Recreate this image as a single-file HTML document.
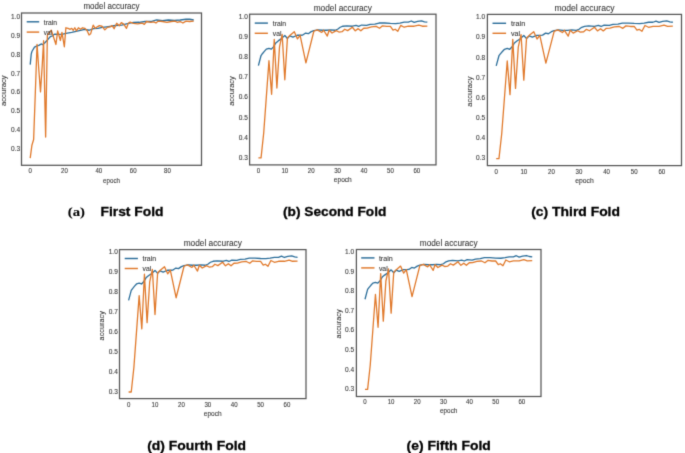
<!DOCTYPE html>
<html><head><meta charset="utf-8"><style>
html,body{margin:0;padding:0;background:#fff;width:685px;height:453px;overflow:hidden}
svg{display:block;font-family:"Liberation Sans", sans-serif}
</style></head><body>
<svg width="685" height="453" viewBox="0 0 685 453">
<defs><filter id="bl" color-interpolation-filters="sRGB" x="0" y="0" width="100%" height="100%" filterUnits="userSpaceOnUse"><feConvolveMatrix order="3" kernelMatrix="1 6 1 6 36 6 1 6 1" divisor="64" edgeMode="duplicate"/></filter></defs>
<g filter="url(#bl)">
<rect width="685" height="453" fill="#fff"/>
<clipPath id="c0"><rect x="21.5" y="13" width="180" height="152.3"/></clipPath>
<polyline clip-path="url(#c0)" points="30.2,64.57 31.23,54.14 31.92,51.48 34.49,47.12 36.55,46.17 38.78,45.41 41.53,43.9 42.56,44.66 44.61,42.95 47.19,40.29 49.25,37.83 50.79,36.31 52.85,35.93 53.8,34.6 54.91,34.22 57.83,34.41 62.8,34.03 67.27,33.08 71.73,32.32 76.02,31.38 80.48,30.43 84.77,29.48 89.23,30.24 93.52,28.53 97.98,28.34 102.27,27.39 106.73,26.82 111.02,26.25 115.49,25.5 121.66,25.12 127.5,23.6 133.33,22.46 139.17,22.27 145,21.51 150.83,21.51 156.67,19.99 162.5,20.75 168.34,19.99 174.34,20.37 180.18,19.99 186.01,19.24 189.62,19.24 193.73,19.99" fill="none" stroke="#2c6e9a" stroke-width="1.3" stroke-linejoin="round"/>
<polyline clip-path="url(#c0)" points="30.2,158.1 31.92,145.2 33.63,139.5 35.35,92.08 37.06,44.28 38.78,69.32 40.5,91.89 42.21,65.52 43.58,40.67 45.64,137.04 47.36,35.17 49.08,32.89 51.31,30.24 55.94,44.47 57.66,30.81 60.4,40.48 61.95,32.32 64.35,46.74 65.89,27.77 68.12,28.34 70.18,29.29 71.73,28.34 73.27,30.24 74.82,27.77 76.36,30.81 78.42,27.77 80.48,29.29 82.54,27.77 84.94,28.34 87.17,30.81 89.06,34.98 90.6,33.84 93.18,25.12 95.24,28.34 97.3,26.82 99.35,25.69 101.93,26.25 104.85,29.86 107.42,27.39 109.99,26.82 112.05,25.69 114.11,28.72 116.69,23.22 119.26,25.69 121.32,22.65 123.72,24.17 126.47,28.34 128.36,23.22 130.07,22.08 133.33,23.41 137.79,23.79 142.08,23.03 144.31,24.36 146.54,21.51 150.83,22.27 153.75,21.89 155.98,23.03 158.21,21.13 162.5,21.51 166.97,22.27 171.26,21.51 175.03,21.13 177.09,22.27 180.18,21.51 182.92,23.03 186.01,21.13 189.62,21.51 193.73,21.13" fill="none" stroke="#e0792b" stroke-width="1.3" stroke-linejoin="round"/>
<rect x="21.5" y="13" width="180" height="152.3" fill="none" stroke="#555555" stroke-width="1.25"/>
<text x="20.1" y="151.39" text-anchor="end" font-size="6.6" textLength="9.1" lengthAdjust="spacingAndGlyphs" fill="#3a3a3a" stroke="#3a3a3a" stroke-width="0.1">0.3</text>
<text x="20.1" y="132.42" text-anchor="end" font-size="6.6" textLength="9.1" lengthAdjust="spacingAndGlyphs" fill="#3a3a3a" stroke="#3a3a3a" stroke-width="0.1">0.4</text>
<text x="20.1" y="113.45" text-anchor="end" font-size="6.6" textLength="9.1" lengthAdjust="spacingAndGlyphs" fill="#3a3a3a" stroke="#3a3a3a" stroke-width="0.1">0.5</text>
<text x="20.1" y="94.48" text-anchor="end" font-size="6.6" textLength="9.1" lengthAdjust="spacingAndGlyphs" fill="#3a3a3a" stroke="#3a3a3a" stroke-width="0.1">0.6</text>
<text x="20.1" y="75.51" text-anchor="end" font-size="6.6" textLength="9.1" lengthAdjust="spacingAndGlyphs" fill="#3a3a3a" stroke="#3a3a3a" stroke-width="0.1">0.7</text>
<text x="20.1" y="56.54" text-anchor="end" font-size="6.6" textLength="9.1" lengthAdjust="spacingAndGlyphs" fill="#3a3a3a" stroke="#3a3a3a" stroke-width="0.1">0.8</text>
<text x="20.1" y="37.57" text-anchor="end" font-size="6.6" textLength="9.1" lengthAdjust="spacingAndGlyphs" fill="#3a3a3a" stroke="#3a3a3a" stroke-width="0.1">0.9</text>
<text x="20.1" y="18.6" text-anchor="end" font-size="6.6" textLength="9.1" lengthAdjust="spacingAndGlyphs" fill="#3a3a3a" stroke="#3a3a3a" stroke-width="0.1">1.0</text>
<text x="30.2" y="173.2" text-anchor="middle" font-size="6.6" textLength="3.4" lengthAdjust="spacingAndGlyphs" fill="#3a3a3a" stroke="#3a3a3a" stroke-width="0.1">0</text>
<text x="64.52" y="173.2" text-anchor="middle" font-size="6.6" textLength="6.8" lengthAdjust="spacingAndGlyphs" fill="#3a3a3a" stroke="#3a3a3a" stroke-width="0.1">20</text>
<text x="98.84" y="173.2" text-anchor="middle" font-size="6.6" textLength="6.8" lengthAdjust="spacingAndGlyphs" fill="#3a3a3a" stroke="#3a3a3a" stroke-width="0.1">40</text>
<text x="133.16" y="173.2" text-anchor="middle" font-size="6.6" textLength="6.8" lengthAdjust="spacingAndGlyphs" fill="#3a3a3a" stroke="#3a3a3a" stroke-width="0.1">60</text>
<text x="167.48" y="173.2" text-anchor="middle" font-size="6.6" textLength="6.8" lengthAdjust="spacingAndGlyphs" fill="#3a3a3a" stroke="#3a3a3a" stroke-width="0.1">80</text>
<text x="111.5" y="8.9" text-anchor="middle" font-size="8.8" textLength="56.1" lengthAdjust="spacingAndGlyphs" fill="#3a3a3a" stroke="#3a3a3a" stroke-width="0.1">model accuracy</text>
<text x="111.5" y="182.8" text-anchor="middle" font-size="7" textLength="16.9" lengthAdjust="spacingAndGlyphs" fill="#3a3a3a" stroke="#3a3a3a" stroke-width="0.1">epoch</text>
<text transform="translate(5.8,90.7) rotate(-90)" text-anchor="middle" font-size="7" textLength="30.6" lengthAdjust="spacingAndGlyphs" fill="#3a3a3a" stroke="#3a3a3a" stroke-width="0.1">accuracy</text>
<line x1="26.7" y1="21.8" x2="39.2" y2="21.8" stroke="#2c6e9a" stroke-width="1.45"/>
<line x1="26.7" y1="32.1" x2="39.2" y2="32.1" stroke="#e0792b" stroke-width="1.45"/>
<text x="43.8" y="24.8" font-size="7" textLength="13.2" lengthAdjust="spacingAndGlyphs" fill="#3a3a3a" stroke="#3a3a3a" stroke-width="0.1">train</text>
<text x="43.8" y="35.1" font-size="7" textLength="8.2" lengthAdjust="spacingAndGlyphs" fill="#3a3a3a" stroke="#3a3a3a" stroke-width="0.1">val</text>
<clipPath id="c1"><rect x="249.6" y="14.2" width="186.4" height="150.7"/></clipPath>
<polyline clip-path="url(#c1)" points="258.4,65.57 261.04,55.54 262.36,53.73 264.34,51.32 266.32,49.11 268.96,48.31 271.34,49.11 273.45,46.91 275.82,42.89 278.2,40.88 281.1,38.88 284.8,35.47 287.44,38.48 289.82,35.87 292.98,37.07 297.21,35.26 300.64,35.26 302.75,35.06 305.66,33.06 308.3,33.66 311.2,31.65 313.84,30.65 318.06,29.85 322.29,30.25 326.51,30.25 330.74,29.85 334.96,30.25 337.6,29.24 340.24,27.24 342.88,26.23 346.84,25.83 352.38,26.23 356.08,25.43 358.72,26.43 361.62,25.03 366.64,25.43 370.07,24.43 374.82,24.03 379.05,23.02 384.59,23.02 390.4,23.42 395.68,23.62 399.9,23.02 404.13,22.22 408.35,22.22 411.26,21.01 414.16,22.42 417.59,21.42 421.55,20.81 424.46,21.82 427.36,22.22" fill="none" stroke="#2c6e9a" stroke-width="1.3" stroke-linejoin="round"/>
<polyline clip-path="url(#c1)" points="258.4,157.89 261.04,157.89 263.68,133.21 266.32,97.08 268.96,60.75 271.6,94.27 274.24,39.28 276.88,88.05 279.52,46.91 282.16,34.46 284.8,79.82 287.44,37.87 290.08,35.26 294.3,31.65 297.47,38.88 300.11,35.26 305.92,62.96 313.84,31.25 317.27,29.85 321.76,32.45 323.61,30.25 327.3,36.07 329.15,30.25 332.06,33.06 336.28,30.65 338.92,32.05 342.09,31.65 344.73,29.24 347.63,30.65 352.38,27.24 355.29,30.85 358.19,28.64 360.83,30.85 363.74,28.24 367.17,28.04 371.39,26.84 376.14,26.43 379.58,28.24 382.48,25.83 386.7,26.43 390.4,26.43 393.04,30.05 395.15,29.24 397.79,31.25 400.7,25.43 404.13,27.24 408.35,26.23 414.16,26.23 418.91,25.03 422.34,26.23 427.36,26.03" fill="none" stroke="#e0792b" stroke-width="1.3" stroke-linejoin="round"/>
<rect x="249.6" y="14.2" width="186.4" height="150.7" fill="none" stroke="#555555" stroke-width="1.25"/>
<text x="247.8" y="159.69" text-anchor="end" font-size="6.6" textLength="9.1" lengthAdjust="spacingAndGlyphs" fill="#3a3a3a" stroke="#3a3a3a" stroke-width="0.1">0.3</text>
<text x="247.8" y="139.62" text-anchor="end" font-size="6.6" textLength="9.1" lengthAdjust="spacingAndGlyphs" fill="#3a3a3a" stroke="#3a3a3a" stroke-width="0.1">0.4</text>
<text x="247.8" y="119.55" text-anchor="end" font-size="6.6" textLength="9.1" lengthAdjust="spacingAndGlyphs" fill="#3a3a3a" stroke="#3a3a3a" stroke-width="0.1">0.5</text>
<text x="247.8" y="99.48" text-anchor="end" font-size="6.6" textLength="9.1" lengthAdjust="spacingAndGlyphs" fill="#3a3a3a" stroke="#3a3a3a" stroke-width="0.1">0.6</text>
<text x="247.8" y="79.41" text-anchor="end" font-size="6.6" textLength="9.1" lengthAdjust="spacingAndGlyphs" fill="#3a3a3a" stroke="#3a3a3a" stroke-width="0.1">0.7</text>
<text x="247.8" y="59.34" text-anchor="end" font-size="6.6" textLength="9.1" lengthAdjust="spacingAndGlyphs" fill="#3a3a3a" stroke="#3a3a3a" stroke-width="0.1">0.8</text>
<text x="247.8" y="39.27" text-anchor="end" font-size="6.6" textLength="9.1" lengthAdjust="spacingAndGlyphs" fill="#3a3a3a" stroke="#3a3a3a" stroke-width="0.1">0.9</text>
<text x="247.8" y="19.2" text-anchor="end" font-size="6.6" textLength="9.1" lengthAdjust="spacingAndGlyphs" fill="#3a3a3a" stroke="#3a3a3a" stroke-width="0.1">1.0</text>
<text x="258.4" y="172.8" text-anchor="middle" font-size="6.6" textLength="3.4" lengthAdjust="spacingAndGlyphs" fill="#3a3a3a" stroke="#3a3a3a" stroke-width="0.1">0</text>
<text x="284.8" y="172.8" text-anchor="middle" font-size="6.6" textLength="6.8" lengthAdjust="spacingAndGlyphs" fill="#3a3a3a" stroke="#3a3a3a" stroke-width="0.1">10</text>
<text x="311.2" y="172.8" text-anchor="middle" font-size="6.6" textLength="6.8" lengthAdjust="spacingAndGlyphs" fill="#3a3a3a" stroke="#3a3a3a" stroke-width="0.1">20</text>
<text x="337.6" y="172.8" text-anchor="middle" font-size="6.6" textLength="6.8" lengthAdjust="spacingAndGlyphs" fill="#3a3a3a" stroke="#3a3a3a" stroke-width="0.1">30</text>
<text x="364" y="172.8" text-anchor="middle" font-size="6.6" textLength="6.8" lengthAdjust="spacingAndGlyphs" fill="#3a3a3a" stroke="#3a3a3a" stroke-width="0.1">40</text>
<text x="390.4" y="172.8" text-anchor="middle" font-size="6.6" textLength="6.8" lengthAdjust="spacingAndGlyphs" fill="#3a3a3a" stroke="#3a3a3a" stroke-width="0.1">50</text>
<text x="416.8" y="172.8" text-anchor="middle" font-size="6.6" textLength="6.8" lengthAdjust="spacingAndGlyphs" fill="#3a3a3a" stroke="#3a3a3a" stroke-width="0.1">60</text>
<text x="342.8" y="10.6" text-anchor="middle" font-size="8.8" textLength="58.2" lengthAdjust="spacingAndGlyphs" fill="#3a3a3a" stroke="#3a3a3a" stroke-width="0.1">model accuracy</text>
<text x="342.8" y="182.4" text-anchor="middle" font-size="7" textLength="18" lengthAdjust="spacingAndGlyphs" fill="#3a3a3a" stroke="#3a3a3a" stroke-width="0.1">epoch</text>
<text transform="translate(233.5,91) rotate(-90)" text-anchor="middle" font-size="7" textLength="29.5" lengthAdjust="spacingAndGlyphs" fill="#3a3a3a" stroke="#3a3a3a" stroke-width="0.1">accuracy</text>
<line x1="254.7" y1="23.1" x2="267.9" y2="23.1" stroke="#2c6e9a" stroke-width="1.45"/>
<line x1="254.7" y1="33.3" x2="267.9" y2="33.3" stroke="#e0792b" stroke-width="1.45"/>
<text x="272.8" y="25.7" font-size="7" textLength="13.3" lengthAdjust="spacingAndGlyphs" fill="#3a3a3a" stroke="#3a3a3a" stroke-width="0.1">train</text>
<text x="272.8" y="35.9" font-size="7" textLength="8.6" lengthAdjust="spacingAndGlyphs" fill="#3a3a3a" stroke="#3a3a3a" stroke-width="0.1">val</text>
<clipPath id="c2"><rect x="487.4" y="14.4" width="194.1" height="151.2"/></clipPath>
<polyline clip-path="url(#c2)" points="496.2,65.81 498.96,55.73 500.34,53.91 502.41,51.49 504.48,49.27 507.24,48.47 509.72,49.27 511.93,47.06 514.42,43.02 516.9,41 519.94,38.99 523.8,35.56 526.56,38.58 529.04,35.96 532.36,37.17 536.77,35.36 540.36,35.36 542.57,35.15 545.6,33.14 548.36,33.74 551.4,31.73 554.16,30.72 558.58,29.91 562.99,30.31 567.41,30.31 571.82,29.91 576.24,30.31 579,29.31 581.76,27.29 584.52,26.28 588.66,25.88 594.46,26.28 598.32,25.47 601.08,26.48 604.12,25.07 609.36,25.47 612.95,24.46 617.92,24.06 622.33,23.05 628.13,23.05 634.2,23.46 639.72,23.66 644.14,23.05 648.55,22.25 652.97,22.25 656,21.04 659.04,22.45 662.63,21.44 666.77,20.83 669.8,21.84 672.84,22.25" fill="none" stroke="#2c6e9a" stroke-width="1.3" stroke-linejoin="round"/>
<polyline clip-path="url(#c2)" points="496.2,158.6 498.96,158.6 501.72,133.79 504.48,97.48 507.24,60.97 510,94.66 512.76,39.39 515.52,88.4 518.28,47.06 521.04,34.55 523.8,80.13 526.56,37.98 529.32,35.36 533.74,31.73 537.05,38.99 539.81,35.36 545.88,63.19 554.16,31.32 557.75,29.91 562.44,32.53 564.37,30.31 568.24,36.16 570.17,30.31 573.2,33.14 577.62,30.72 580.38,32.13 583.69,31.73 586.45,29.31 589.49,30.72 594.46,27.29 597.49,30.92 600.53,28.7 603.29,30.92 606.32,28.3 609.91,28.1 614.33,26.89 619.3,26.48 622.88,28.3 625.92,25.88 630.34,26.48 634.2,26.48 636.96,30.11 639.17,29.31 641.93,31.32 644.96,25.47 648.55,27.29 652.97,26.28 659.04,26.28 664.01,25.07 667.6,26.28 672.84,26.08" fill="none" stroke="#e0792b" stroke-width="1.3" stroke-linejoin="round"/>
<rect x="487.4" y="14.4" width="194.1" height="151.2" fill="none" stroke="#555555" stroke-width="1.25"/>
<text x="485.2" y="160.39" text-anchor="end" font-size="6.6" textLength="9.1" lengthAdjust="spacingAndGlyphs" fill="#3a3a3a" stroke="#3a3a3a" stroke-width="0.1">0.3</text>
<text x="485.2" y="140.22" text-anchor="end" font-size="6.6" textLength="9.1" lengthAdjust="spacingAndGlyphs" fill="#3a3a3a" stroke="#3a3a3a" stroke-width="0.1">0.4</text>
<text x="485.2" y="120.05" text-anchor="end" font-size="6.6" textLength="9.1" lengthAdjust="spacingAndGlyphs" fill="#3a3a3a" stroke="#3a3a3a" stroke-width="0.1">0.5</text>
<text x="485.2" y="99.88" text-anchor="end" font-size="6.6" textLength="9.1" lengthAdjust="spacingAndGlyphs" fill="#3a3a3a" stroke="#3a3a3a" stroke-width="0.1">0.6</text>
<text x="485.2" y="79.71" text-anchor="end" font-size="6.6" textLength="9.1" lengthAdjust="spacingAndGlyphs" fill="#3a3a3a" stroke="#3a3a3a" stroke-width="0.1">0.7</text>
<text x="485.2" y="59.54" text-anchor="end" font-size="6.6" textLength="9.1" lengthAdjust="spacingAndGlyphs" fill="#3a3a3a" stroke="#3a3a3a" stroke-width="0.1">0.8</text>
<text x="485.2" y="39.37" text-anchor="end" font-size="6.6" textLength="9.1" lengthAdjust="spacingAndGlyphs" fill="#3a3a3a" stroke="#3a3a3a" stroke-width="0.1">0.9</text>
<text x="485.2" y="19.2" text-anchor="end" font-size="6.6" textLength="9.1" lengthAdjust="spacingAndGlyphs" fill="#3a3a3a" stroke="#3a3a3a" stroke-width="0.1">1.0</text>
<text x="496.2" y="173.5" text-anchor="middle" font-size="6.6" textLength="3.4" lengthAdjust="spacingAndGlyphs" fill="#3a3a3a" stroke="#3a3a3a" stroke-width="0.1">0</text>
<text x="523.8" y="173.5" text-anchor="middle" font-size="6.6" textLength="6.8" lengthAdjust="spacingAndGlyphs" fill="#3a3a3a" stroke="#3a3a3a" stroke-width="0.1">10</text>
<text x="551.4" y="173.5" text-anchor="middle" font-size="6.6" textLength="6.8" lengthAdjust="spacingAndGlyphs" fill="#3a3a3a" stroke="#3a3a3a" stroke-width="0.1">20</text>
<text x="579" y="173.5" text-anchor="middle" font-size="6.6" textLength="6.8" lengthAdjust="spacingAndGlyphs" fill="#3a3a3a" stroke="#3a3a3a" stroke-width="0.1">30</text>
<text x="606.6" y="173.5" text-anchor="middle" font-size="6.6" textLength="6.8" lengthAdjust="spacingAndGlyphs" fill="#3a3a3a" stroke="#3a3a3a" stroke-width="0.1">40</text>
<text x="634.2" y="173.5" text-anchor="middle" font-size="6.6" textLength="6.8" lengthAdjust="spacingAndGlyphs" fill="#3a3a3a" stroke="#3a3a3a" stroke-width="0.1">50</text>
<text x="661.8" y="173.5" text-anchor="middle" font-size="6.6" textLength="6.8" lengthAdjust="spacingAndGlyphs" fill="#3a3a3a" stroke="#3a3a3a" stroke-width="0.1">60</text>
<text x="584.45" y="10.6" text-anchor="middle" font-size="8.8" textLength="60.1" lengthAdjust="spacingAndGlyphs" fill="#3a3a3a" stroke="#3a3a3a" stroke-width="0.1">model accuracy</text>
<text x="584.45" y="183" text-anchor="middle" font-size="7" textLength="18.5" lengthAdjust="spacingAndGlyphs" fill="#3a3a3a" stroke="#3a3a3a" stroke-width="0.1">epoch</text>
<text transform="translate(471.5,91.6) rotate(-90)" text-anchor="middle" font-size="7" textLength="30.1" lengthAdjust="spacingAndGlyphs" fill="#3a3a3a" stroke="#3a3a3a" stroke-width="0.1">accuracy</text>
<line x1="492.5" y1="23.3" x2="506.1" y2="23.3" stroke="#2c6e9a" stroke-width="1.45"/>
<line x1="492.5" y1="33.3" x2="506.1" y2="33.3" stroke="#e0792b" stroke-width="1.45"/>
<text x="511" y="25.8" font-size="7" textLength="14.2" lengthAdjust="spacingAndGlyphs" fill="#3a3a3a" stroke="#3a3a3a" stroke-width="0.1">train</text>
<text x="511" y="35.8" font-size="7" textLength="9.1" lengthAdjust="spacingAndGlyphs" fill="#3a3a3a" stroke="#3a3a3a" stroke-width="0.1">val</text>
<clipPath id="c3"><rect x="119.5" y="249.6" width="186.5" height="149"/></clipPath>
<polyline clip-path="url(#c3)" points="128.6,300.33 131.24,290.36 132.56,288.57 134.54,286.18 136.52,283.99 139.16,283.19 141.54,283.99 143.65,281.8 146.02,277.81 148.4,275.82 151.3,273.82 155,270.43 157.64,273.42 160.02,270.83 163.18,272.03 167.41,270.24 170.84,270.24 172.95,270.04 175.86,268.04 178.5,268.64 181.4,266.65 184.04,265.65 188.26,264.85 192.49,265.25 196.71,265.25 200.94,264.85 205.16,265.25 207.8,264.26 210.44,262.26 213.08,261.27 217.04,260.87 222.58,261.27 226.28,260.47 228.92,261.47 231.82,260.07 236.84,260.47 240.27,259.47 245.02,259.07 249.25,258.08 254.79,258.08 260.6,258.48 265.88,258.68 270.1,258.08 274.33,257.28 278.55,257.28 281.46,256.09 284.36,257.48 287.79,256.48 291.75,255.89 294.66,256.88 297.56,257.28" fill="none" stroke="#2c6e9a" stroke-width="1.3" stroke-linejoin="round"/>
<polyline clip-path="url(#c3)" points="128.6,392.01 131.24,392.01 133.88,367.49 136.52,331.62 139.16,295.55 141.8,328.83 144.44,274.22 147.08,322.65 149.72,281.8 152.36,269.44 155,314.48 157.64,272.83 160.28,270.24 164.5,266.65 167.67,273.82 170.31,270.24 176.12,297.74 184.04,266.25 187.47,264.85 191.96,267.45 193.81,265.25 197.5,271.03 199.35,265.25 202.26,268.04 206.48,265.65 209.12,267.05 212.29,266.65 214.93,264.26 217.83,265.65 222.58,262.26 225.49,265.85 228.39,263.66 231.03,265.85 233.94,263.26 237.37,263.06 241.59,261.87 246.34,261.47 249.78,263.26 252.68,260.87 256.9,261.47 260.6,261.47 263.24,265.05 265.35,264.26 267.99,266.25 270.9,260.47 274.33,262.26 278.55,261.27 284.36,261.27 289.11,260.07 292.54,261.27 297.56,261.07" fill="none" stroke="#e0792b" stroke-width="1.3" stroke-linejoin="round"/>
<rect x="119.5" y="249.6" width="186.5" height="149" fill="none" stroke="#555555" stroke-width="1.25"/>
<text x="117.8" y="393.81" text-anchor="end" font-size="6.6" textLength="9.1" lengthAdjust="spacingAndGlyphs" fill="#3a3a3a" stroke="#3a3a3a" stroke-width="0.1">0.3</text>
<text x="117.8" y="373.88" text-anchor="end" font-size="6.6" textLength="9.1" lengthAdjust="spacingAndGlyphs" fill="#3a3a3a" stroke="#3a3a3a" stroke-width="0.1">0.4</text>
<text x="117.8" y="353.95" text-anchor="end" font-size="6.6" textLength="9.1" lengthAdjust="spacingAndGlyphs" fill="#3a3a3a" stroke="#3a3a3a" stroke-width="0.1">0.5</text>
<text x="117.8" y="334.02" text-anchor="end" font-size="6.6" textLength="9.1" lengthAdjust="spacingAndGlyphs" fill="#3a3a3a" stroke="#3a3a3a" stroke-width="0.1">0.6</text>
<text x="117.8" y="314.09" text-anchor="end" font-size="6.6" textLength="9.1" lengthAdjust="spacingAndGlyphs" fill="#3a3a3a" stroke="#3a3a3a" stroke-width="0.1">0.7</text>
<text x="117.8" y="294.16" text-anchor="end" font-size="6.6" textLength="9.1" lengthAdjust="spacingAndGlyphs" fill="#3a3a3a" stroke="#3a3a3a" stroke-width="0.1">0.8</text>
<text x="117.8" y="274.23" text-anchor="end" font-size="6.6" textLength="9.1" lengthAdjust="spacingAndGlyphs" fill="#3a3a3a" stroke="#3a3a3a" stroke-width="0.1">0.9</text>
<text x="117.8" y="254.3" text-anchor="end" font-size="6.6" textLength="9.1" lengthAdjust="spacingAndGlyphs" fill="#3a3a3a" stroke="#3a3a3a" stroke-width="0.1">1.0</text>
<text x="128.6" y="406.5" text-anchor="middle" font-size="6.6" textLength="3.4" lengthAdjust="spacingAndGlyphs" fill="#3a3a3a" stroke="#3a3a3a" stroke-width="0.1">0</text>
<text x="155" y="406.5" text-anchor="middle" font-size="6.6" textLength="6.8" lengthAdjust="spacingAndGlyphs" fill="#3a3a3a" stroke="#3a3a3a" stroke-width="0.1">10</text>
<text x="181.4" y="406.5" text-anchor="middle" font-size="6.6" textLength="6.8" lengthAdjust="spacingAndGlyphs" fill="#3a3a3a" stroke="#3a3a3a" stroke-width="0.1">20</text>
<text x="207.8" y="406.5" text-anchor="middle" font-size="6.6" textLength="6.8" lengthAdjust="spacingAndGlyphs" fill="#3a3a3a" stroke="#3a3a3a" stroke-width="0.1">30</text>
<text x="234.2" y="406.5" text-anchor="middle" font-size="6.6" textLength="6.8" lengthAdjust="spacingAndGlyphs" fill="#3a3a3a" stroke="#3a3a3a" stroke-width="0.1">40</text>
<text x="260.6" y="406.5" text-anchor="middle" font-size="6.6" textLength="6.8" lengthAdjust="spacingAndGlyphs" fill="#3a3a3a" stroke="#3a3a3a" stroke-width="0.1">50</text>
<text x="287" y="406.5" text-anchor="middle" font-size="6.6" textLength="6.8" lengthAdjust="spacingAndGlyphs" fill="#3a3a3a" stroke="#3a3a3a" stroke-width="0.1">60</text>
<text x="212.75" y="245.6" text-anchor="middle" font-size="8.8" textLength="58.2" lengthAdjust="spacingAndGlyphs" fill="#3a3a3a" stroke="#3a3a3a" stroke-width="0.1">model accuracy</text>
<text x="212.75" y="415.6" text-anchor="middle" font-size="7" textLength="17.9" lengthAdjust="spacingAndGlyphs" fill="#3a3a3a" stroke="#3a3a3a" stroke-width="0.1">epoch</text>
<text transform="translate(103.5,325.8) rotate(-90)" text-anchor="middle" font-size="7" textLength="29.2" lengthAdjust="spacingAndGlyphs" fill="#3a3a3a" stroke="#3a3a3a" stroke-width="0.1">accuracy</text>
<line x1="124.7" y1="258.5" x2="137.9" y2="258.5" stroke="#2c6e9a" stroke-width="1.45"/>
<line x1="124.7" y1="268.5" x2="137.9" y2="268.5" stroke="#e0792b" stroke-width="1.45"/>
<text x="142.6" y="261.1" font-size="7" textLength="13.5" lengthAdjust="spacingAndGlyphs" fill="#3a3a3a" stroke="#3a3a3a" stroke-width="0.1">train</text>
<text x="142.6" y="271.1" font-size="7" textLength="8.7" lengthAdjust="spacingAndGlyphs" fill="#3a3a3a" stroke="#3a3a3a" stroke-width="0.1">val</text>
<clipPath id="c4"><rect x="356.4" y="249.5" width="184.6" height="147"/></clipPath>
<polyline clip-path="url(#c4)" points="365,299.23 367.61,289.43 368.92,287.66 370.88,285.31 372.84,283.16 375.45,282.37 377.8,283.16 379.89,281 382.25,277.08 384.6,275.12 387.47,273.16 391.13,269.83 393.74,272.77 396.09,270.22 399.23,271.4 403.41,269.63 406.81,269.63 408.9,269.44 411.77,267.48 414.39,268.06 417.26,266.1 419.87,265.12 424.05,264.34 428.23,264.73 432.42,264.73 436.6,264.34 440.78,264.73 443.39,263.75 446,261.79 448.62,260.81 452.54,260.42 458.02,260.81 461.68,260.03 464.29,261.01 467.17,259.64 472.13,260.03 475.53,259.05 480.23,258.66 484.41,257.68 489.9,257.68 495.65,258.07 500.88,258.26 505.06,257.68 509.24,256.89 513.42,256.89 516.29,255.72 519.17,257.09 522.56,256.11 526.48,255.52 529.36,256.5 532.23,256.89" fill="none" stroke="#2c6e9a" stroke-width="1.3" stroke-linejoin="round"/>
<polyline clip-path="url(#c4)" points="365,389.39 367.61,389.39 370.23,365.28 372.84,330 375.45,294.52 378.06,327.26 380.68,273.55 383.29,321.18 385.9,281 388.52,268.85 391.13,313.14 393.74,272.18 396.36,269.63 400.54,266.1 403.67,273.16 406.29,269.63 412.03,296.68 419.87,265.71 423.27,264.34 427.71,266.89 429.54,264.73 433.2,270.42 435.03,264.73 437.9,267.48 442.08,265.12 444.7,266.5 447.83,266.1 450.45,263.75 453.32,265.12 458.02,261.79 460.9,265.32 463.77,263.16 466.38,265.32 469.26,262.77 472.66,262.58 476.84,261.4 481.54,261.01 484.94,262.77 487.81,260.42 491.99,261.01 495.65,261.01 498.26,264.54 500.35,263.75 502.97,265.71 505.84,260.03 509.24,261.79 513.42,260.81 519.17,260.81 523.87,259.64 527.27,260.81 532.23,260.62" fill="none" stroke="#e0792b" stroke-width="1.3" stroke-linejoin="round"/>
<rect x="356.4" y="249.5" width="184.6" height="147" fill="none" stroke="#555555" stroke-width="1.25"/>
<text x="354.2" y="391.2" text-anchor="end" font-size="6.6" textLength="9.1" lengthAdjust="spacingAndGlyphs" fill="#3a3a3a" stroke="#3a3a3a" stroke-width="0.1">0.3</text>
<text x="354.2" y="371.6" text-anchor="end" font-size="6.6" textLength="9.1" lengthAdjust="spacingAndGlyphs" fill="#3a3a3a" stroke="#3a3a3a" stroke-width="0.1">0.4</text>
<text x="354.2" y="352" text-anchor="end" font-size="6.6" textLength="9.1" lengthAdjust="spacingAndGlyphs" fill="#3a3a3a" stroke="#3a3a3a" stroke-width="0.1">0.5</text>
<text x="354.2" y="332.4" text-anchor="end" font-size="6.6" textLength="9.1" lengthAdjust="spacingAndGlyphs" fill="#3a3a3a" stroke="#3a3a3a" stroke-width="0.1">0.6</text>
<text x="354.2" y="312.8" text-anchor="end" font-size="6.6" textLength="9.1" lengthAdjust="spacingAndGlyphs" fill="#3a3a3a" stroke="#3a3a3a" stroke-width="0.1">0.7</text>
<text x="354.2" y="293.2" text-anchor="end" font-size="6.6" textLength="9.1" lengthAdjust="spacingAndGlyphs" fill="#3a3a3a" stroke="#3a3a3a" stroke-width="0.1">0.8</text>
<text x="354.2" y="273.6" text-anchor="end" font-size="6.6" textLength="9.1" lengthAdjust="spacingAndGlyphs" fill="#3a3a3a" stroke="#3a3a3a" stroke-width="0.1">0.9</text>
<text x="354.2" y="254" text-anchor="end" font-size="6.6" textLength="9.1" lengthAdjust="spacingAndGlyphs" fill="#3a3a3a" stroke="#3a3a3a" stroke-width="0.1">1.0</text>
<text x="365" y="404.4" text-anchor="middle" font-size="6.6" textLength="3.4" lengthAdjust="spacingAndGlyphs" fill="#3a3a3a" stroke="#3a3a3a" stroke-width="0.1">0</text>
<text x="391.13" y="404.4" text-anchor="middle" font-size="6.6" textLength="6.8" lengthAdjust="spacingAndGlyphs" fill="#3a3a3a" stroke="#3a3a3a" stroke-width="0.1">10</text>
<text x="417.26" y="404.4" text-anchor="middle" font-size="6.6" textLength="6.8" lengthAdjust="spacingAndGlyphs" fill="#3a3a3a" stroke="#3a3a3a" stroke-width="0.1">20</text>
<text x="443.39" y="404.4" text-anchor="middle" font-size="6.6" textLength="6.8" lengthAdjust="spacingAndGlyphs" fill="#3a3a3a" stroke="#3a3a3a" stroke-width="0.1">30</text>
<text x="469.52" y="404.4" text-anchor="middle" font-size="6.6" textLength="6.8" lengthAdjust="spacingAndGlyphs" fill="#3a3a3a" stroke="#3a3a3a" stroke-width="0.1">40</text>
<text x="495.65" y="404.4" text-anchor="middle" font-size="6.6" textLength="6.8" lengthAdjust="spacingAndGlyphs" fill="#3a3a3a" stroke="#3a3a3a" stroke-width="0.1">50</text>
<text x="521.78" y="404.4" text-anchor="middle" font-size="6.6" textLength="6.8" lengthAdjust="spacingAndGlyphs" fill="#3a3a3a" stroke="#3a3a3a" stroke-width="0.1">60</text>
<text x="448.7" y="245.6" text-anchor="middle" font-size="8.8" textLength="57.7" lengthAdjust="spacingAndGlyphs" fill="#3a3a3a" stroke="#3a3a3a" stroke-width="0.1">model accuracy</text>
<text x="448.7" y="413.3" text-anchor="middle" font-size="7" textLength="17.3" lengthAdjust="spacingAndGlyphs" fill="#3a3a3a" stroke="#3a3a3a" stroke-width="0.1">epoch</text>
<text transform="translate(340.6,324) rotate(-90)" text-anchor="middle" font-size="7" textLength="29.1" lengthAdjust="spacingAndGlyphs" fill="#3a3a3a" stroke="#3a3a3a" stroke-width="0.1">accuracy</text>
<line x1="361.2" y1="257.9" x2="374.5" y2="257.9" stroke="#2c6e9a" stroke-width="1.45"/>
<line x1="361.2" y1="267.9" x2="374.5" y2="267.9" stroke="#e0792b" stroke-width="1.45"/>
<text x="378.9" y="260.8" font-size="7" textLength="13.9" lengthAdjust="spacingAndGlyphs" fill="#3a3a3a" stroke="#3a3a3a" stroke-width="0.1">train</text>
<text x="378.9" y="270.8" font-size="7" textLength="8.8" lengthAdjust="spacingAndGlyphs" fill="#3a3a3a" stroke="#3a3a3a" stroke-width="0.1">val</text>
<text x="67.8" y="216.4" font-family='"Liberation Serif", serif' font-weight="bold" font-size="13.4" textLength="17.2" lengthAdjust="spacingAndGlyphs" fill="#000" stroke="#000" stroke-width="0.1">(a)</text>
<text x="100.5" y="216.3" font-family='"Liberation Sans", sans-serif' font-weight="bold" font-size="13.4" textLength="63" lengthAdjust="spacingAndGlyphs" fill="#000" stroke="#000" stroke-width="0.3">First Fold</text>
<text x="283" y="216.3" font-family='"Liberation Sans", sans-serif' font-weight="bold" font-size="13.4" textLength="103.4" lengthAdjust="spacingAndGlyphs" fill="#000" stroke="#000" stroke-width="0.3">(b) Second Fold</text>
<text x="531.2" y="216.3" font-family='"Liberation Sans", sans-serif' font-weight="bold" font-size="13.4" textLength="88.8" lengthAdjust="spacingAndGlyphs" fill="#000" stroke="#000" stroke-width="0.3">(c) Third Fold</text>
<text x="147.2" y="450.1" font-family='"Liberation Sans", sans-serif' font-weight="bold" font-size="13.1" textLength="98.8" lengthAdjust="spacingAndGlyphs" fill="#000" stroke="#000" stroke-width="0.3">(d) Fourth Fold</text>
<text x="406.6" y="450.1" font-family='"Liberation Sans", sans-serif' font-weight="bold" font-size="13.1" textLength="84.2" lengthAdjust="spacingAndGlyphs" fill="#000" stroke="#000" stroke-width="0.3">(e) Fifth Fold</text>
</g>
</svg>
</body></html>
